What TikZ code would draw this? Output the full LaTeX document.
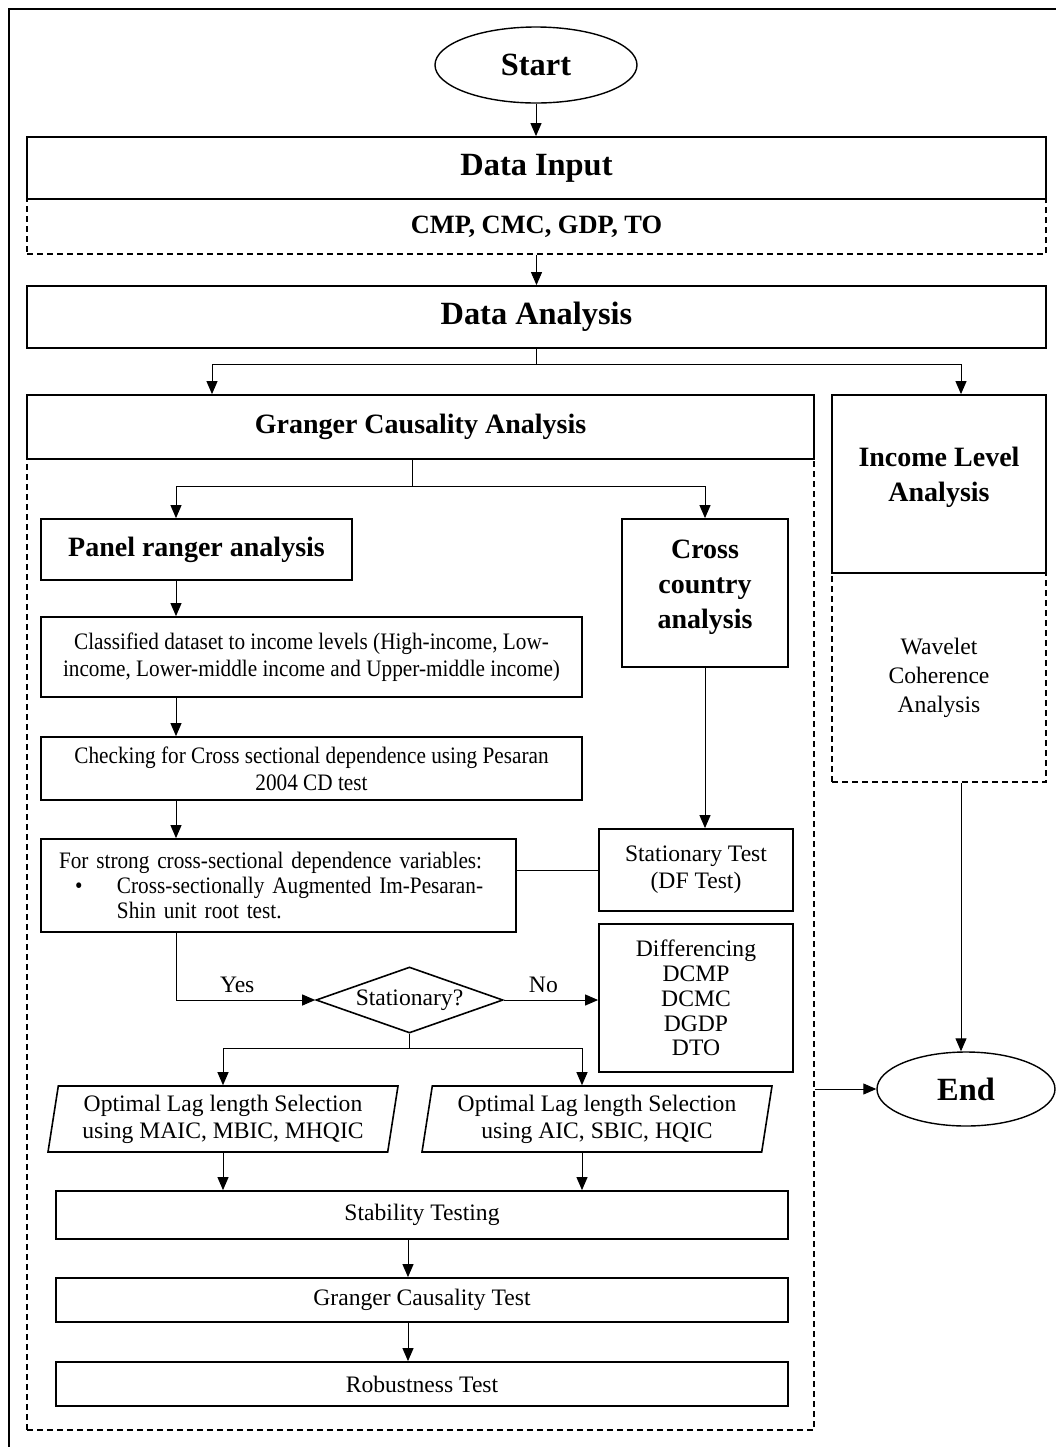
\documentclass[tikz,border=0pt]{standalone}
\usepackage{fontspec}
\setmainfont{Liberation Serif}
\newfontfamily\narrowserif[FakeStretch=0.9]{Liberation Serif}
\usetikzlibrary{arrows.meta, shapes.geometric}

\newcommand{\bigbf}{\fontsize{16.2}{19}\selectfont\bfseries}
\newcommand{\midbf}{\fontsize{14}{17.5}\selectfont\bfseries}
\newcommand{\bodytxt}{\fontsize{11.8}{13.5}\selectfont}
\newcommand{\narrowtxt}{\narrowserif\fontsize{11.8}{13.5}\selectfont}

\tikzstyle{block} = [draw, line width=0.9pt, rectangle, inner sep=0pt, align=center]
\tikzstyle{dashblock} = [draw, line width=0.8pt, dash pattern=on 3pt off 2pt, rectangle, inner sep=0pt, align=center]
\tikzstyle{terminal} = [draw, line width=0.7pt, ellipse, inner sep=0pt, font=\bigbf]
\tikzstyle{decision} = [draw, line width=0.8pt, diamond, aspect=2.8, inner sep=0pt]
\tikzstyle{io} = [draw, line width=0.8pt, trapezium, trapezium left angle=78, trapezium right angle=102, trapezium stretches body, inner sep=0pt, align=center]
\tikzstyle{line} = [line width=0.5pt]
\tikzstyle{arrow} = [line width=0.5pt, -{Triangle[length=6.5pt, width=5.5pt]}]

\begin{document}
\begin{tikzpicture}[x=0.5pt, y=-0.5pt, font=\bodytxt]
  \useasboundingbox (0,0) rectangle (1056,1447);
  \draw[line width=0.7pt] (9,1447) -- (9,9) -- (1056,9);

  \node[terminal, minimum width=101pt, minimum height=38pt] (start) at (536,65) {Start};
  \node[dashblock, minimum width=509.5pt, minimum height=27.5pt, font=\fontsize{13.2}{16}\selectfont\bfseries] (vars) at (536.5,226.5) {CMP, CMC, GDP, TO};
  \node[block, minimum width=509.5pt, minimum height=31pt, font=\bigbf] (input) at (536.5,168) {Data Input};
  \node[block, minimum width=509.5pt, minimum height=31pt, font=\bigbf] (analysis) at (536.5,317) {Data Analysis};

  \node[dashblock, minimum width=393.5pt, minimum height=485.5pt] (gcarea) at (420.5,944.5) {};
  \node[block, minimum width=393.5pt, minimum height=32pt, font=\midbf] (granger) at (420.5,427) {Granger Causality Analysis};
  \node[dashblock, minimum width=107pt, minimum height=104.5pt, font=\fontsize{11.8}{14.5}\selectfont] (wavelet) at (939,677.5) {Wavelet\\Coherence\\Analysis};
  \node[block, minimum width=107pt, minimum height=89pt, label={[font=\midbf, align=center, yshift=3.5pt]center:{Income Level\\Analysis}}] (income) at (939,484) {};

  \node[block, minimum width=155.5pt, minimum height=30.5pt, font=\midbf] (panel) at (196.5,549.5) {Panel ranger analysis};
  \node[block, minimum width=83pt, minimum height=74pt, label={[font=\midbf, align=center, yshift=3pt]center:{Cross\\country\\analysis}}] (cross) at (705,593) {};
  \node[block, minimum width=270.5pt, minimum height=40pt, font=\narrowtxt] (classify) at (311.5,657) {Classified dataset to income levels (High-income, Low-\\income, Lower-middle income and Upper-middle income)};
  \node[block, minimum width=270.5pt, minimum height=31.5pt, font=\narrowtxt] (check) at (311.5,768.5) {Checking for Cross sectional dependence using Pesaran\\2004 CD test};
  \node[block, minimum width=237.5pt, minimum height=46.5pt, text width=219.5pt, align=left, font=\narrowserif\fontsize{11.8}{12.3}\selectfont] (strong) at (278.5,885.5) {For strong cross-sectional dependence variables:\\\makebox[29pt][l]{\hspace*{8pt}\textbullet}Cross-sectionally Augmented Im-Pesaran-\\\hspace*{29pt}Shin unit root test.};
  \node[block, minimum width=97pt, minimum height=41pt] (stattest) at (696,870) {Stationary Test\\(DF Test)};
  \node[block, minimum width=97pt, minimum height=74pt, font=\fontsize{11.8}{12.4}\selectfont] (diff) at (696,998) {Differencing\\DCMP\\DCMC\\DGDP\\DTO};
  \node[decision, minimum width=93.5pt, minimum height=33pt] (decide) at (409.5,1000) {Stationary?};
  \node[io, minimum width=175pt, minimum height=33pt] (par1) at (223,1119) {Optimal Lag length Selection\\using MAIC, MBIC, MHQIC};
  \node[io, minimum width=175pt, minimum height=33pt] (par2) at (597,1119) {Optimal Lag length Selection\\using AIC, SBIC, HQIC};
  \node[block, minimum width=366pt, minimum height=24pt] (stability) at (422,1215) {Stability Testing};
  \node[block, minimum width=366pt, minimum height=22pt] (gtest) at (422,1300) {Granger Causality Test};
  \node[block, minimum width=366pt, minimum height=22pt] (robust) at (422,1384) {Robustness Test};
  \node[terminal, minimum width=89pt, minimum height=37pt] (stop) at (966,1089) {End};

  \coordinate (asplit) at (536.5,364);
  \coordinate (gsplit) at (412,486);
  \coordinate (dsplit) at (409.5,1048);
  \coordinate (laneG) at (212,0);
  \coordinate (laneI) at (961,0);
  \coordinate (laneP) at (176,0);
  \coordinate (laneL) at (223,0);
  \coordinate (laneR) at (582,0);
  \coordinate (laneS) at (408,0);

  \draw[arrow] (start.south) -- (start.south |- input.north);
  \draw[arrow] (vars.south) -- (analysis.north);
  \draw[line] (analysis.south) -- (asplit);
  \draw[arrow] (asplit) -| (laneG |- granger.north);
  \draw[arrow] (asplit) -| (laneI |- income.north);
  \draw[line] (granger.south -| gsplit) -- (gsplit);
  \draw[arrow] (gsplit) -| (laneP |- panel.north);
  \draw[arrow] (gsplit) -| (cross.north);
  \draw[arrow] (laneP |- panel.south) -- (laneP |- classify.north);
  \draw[arrow] (laneP |- classify.south) -- (laneP |- check.north);
  \draw[arrow] (laneP |- check.south) -- (laneP |- strong.north);
  \draw[arrow] (cross.south) -- (cross.south |- stattest.north);
  \draw[line] (strong.east |- stattest.west) -- (stattest.west);
  \draw[arrow] (laneP |- strong.south) |- node[pos=0.72, above] {Yes} (decide.west);
  \draw[arrow] (decide.east) -- node[pos=0.42, above] {No} (decide.east -| diff.west);
  \draw[line] (decide.south) -- (dsplit);
  \draw[arrow] (dsplit) -| (laneL |- par1.north);
  \draw[arrow] (dsplit) -| (laneR |- par2.north);
  \draw[arrow] (laneL |- par1.south) -- (laneL |- stability.north);
  \draw[arrow] (laneR |- par2.south) -- (laneR |- stability.north);
  \draw[arrow] (laneS |- stability.south) -- (laneS |- gtest.north);
  \draw[arrow] (laneS |- gtest.south) -- (laneS |- robust.north);
  \draw[arrow] (laneI |- wavelet.south) -- (laneI |- stop.north);
  \draw[arrow] (stop.west -| gcarea.east) -- (stop.west);
\end{tikzpicture}
\end{document}
